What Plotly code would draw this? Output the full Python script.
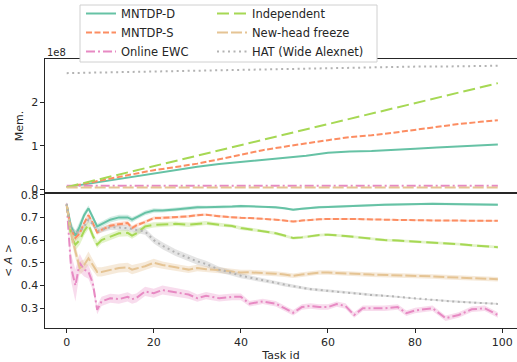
import plotly.graph_objects as go

# ---------------- data ----------------
mem_tasks = [0, 5, 10, 15, 20, 25, 30, 35, 40, 45, 50, 55, 60, 65, 70, 75, 80, 85, 90, 95, 99]
# memory, in units of 1e8 parameters
mem_mntdp_d = [0.05, 0.13, 0.21, 0.29, 0.37, 0.45, 0.52, 0.58, 0.63, 0.68, 0.72, 0.77, 0.84, 0.87, 0.88, 0.90, 0.93, 0.96, 0.98, 1.01, 1.03]
mem_mntdp_s = [0.05, 0.15, 0.25, 0.35, 0.44, 0.51, 0.59, 0.69, 0.80, 0.90, 0.98, 1.06, 1.13, 1.20, 1.24, 1.30, 1.37, 1.44, 1.50, 1.55, 1.59]
mem_ewc = [0.08, 0.08, 0.08, 0.08, 0.08, 0.08, 0.08, 0.08, 0.08, 0.08, 0.08, 0.08, 0.08, 0.08, 0.08, 0.08, 0.08, 0.08, 0.08, 0.08, 0.08]
mem_indep = [0.05, 0.17, 0.29, 0.41, 0.53, 0.65, 0.77, 0.89, 1.01, 1.13, 1.25, 1.37, 1.49, 1.61, 1.73, 1.85, 1.97, 2.09, 2.21, 2.33, 2.44]
mem_newhead = [0.04, 0.04, 0.04, 0.04, 0.04, 0.04, 0.04, 0.04, 0.04, 0.04, 0.04, 0.04, 0.04, 0.04, 0.04, 0.04, 0.04, 0.04, 0.04, 0.04, 0.04]
mem_hat = [2.67, 2.68, 2.69, 2.70, 2.71, 2.72, 2.73, 2.74, 2.75, 2.76, 2.77, 2.78, 2.79, 2.80, 2.80, 2.81, 2.82, 2.82, 2.83, 2.84, 2.84]

acc_tasks = [0, 1, 2, 3, 4, 5, 6, 7, 8, 10, 12, 14, 15, 16, 18, 20, 22, 25, 28, 30, 32, 35, 38, 40,
             42, 45, 48, 50, 52, 54, 56, 58, 60, 62, 64, 66, 68, 70, 73, 76, 78, 80, 82, 84, 87, 90, 93, 96, 99]
acc_mntdp_d = [0.756, 0.66, 0.62, 0.66, 0.71, 0.74, 0.70, 0.66, 0.67, 0.69, 0.70, 0.70, 0.69, 0.70, 0.72, 0.73, 0.73, 0.735, 0.74, 0.745, 0.745, 0.745, 0.748, 0.75,
               0.749, 0.748, 0.745, 0.740, 0.734, 0.738, 0.742, 0.745, 0.746, 0.748, 0.750, 0.752, 0.753, 0.755, 0.756, 0.757, 0.758, 0.760, 0.760, 0.760, 0.759, 0.758, 0.757, 0.756, 0.756]
acc_mntdp_s = [0.756, 0.645, 0.61, 0.63, 0.675, 0.71, 0.675, 0.634, 0.645, 0.663, 0.67, 0.675, 0.653, 0.665, 0.68, 0.697, 0.698, 0.70, 0.705, 0.71, 0.712, 0.705, 0.70, 0.698,
               0.697, 0.695, 0.690, 0.686, 0.682, 0.686, 0.690, 0.692, 0.693, 0.694, 0.692, 0.693, 0.692, 0.690, 0.690, 0.689, 0.688, 0.687, 0.688, 0.687, 0.686, 0.686, 0.685, 0.685, 0.685]
acc_ewc = [0.76, 0.48, 0.40, 0.50, 0.47, 0.46, 0.41, 0.293, 0.33, 0.344, 0.34, 0.35, 0.34, 0.345, 0.374, 0.366, 0.38, 0.37, 0.36, 0.344, 0.355, 0.344, 0.35, 0.35,
           0.32, 0.33, 0.32, 0.30, 0.28, 0.305, 0.31, 0.305, 0.305, 0.318, 0.31, 0.27, 0.30, 0.30, 0.30, 0.305, 0.278, 0.29, 0.295, 0.30, 0.256, 0.27, 0.295, 0.30, 0.27]
acc_indep = [0.756, 0.616, 0.58, 0.60, 0.64, 0.667, 0.62, 0.58, 0.60, 0.616, 0.63, 0.632, 0.62, 0.63, 0.66, 0.667, 0.668, 0.672, 0.668, 0.672, 0.675, 0.668, 0.662, 0.653,
             0.648, 0.640, 0.630, 0.620, 0.609, 0.612, 0.618, 0.622, 0.624, 0.622, 0.618, 0.614, 0.610, 0.606, 0.600, 0.598, 0.596, 0.594, 0.592, 0.590, 0.587, 0.582, 0.577, 0.573, 0.569]
acc_newhead = [0.756, 0.63, 0.55, 0.477, 0.49, 0.52, 0.49, 0.46, 0.46, 0.47, 0.477, 0.48, 0.47, 0.475, 0.485, 0.50, 0.49, 0.48, 0.47, 0.477, 0.472, 0.468, 0.462, 0.457,
               0.458, 0.456, 0.452, 0.448, 0.443, 0.448, 0.454, 0.457, 0.457, 0.456, 0.455, 0.452, 0.450, 0.448, 0.447, 0.446, 0.445, 0.443, 0.442, 0.440, 0.437, 0.434, 0.432, 0.430, 0.428]
acc_hat = [0.76, 0.645, 0.63, 0.64, 0.66, 0.69, 0.67, 0.64, 0.645, 0.657, 0.655, 0.653, 0.648, 0.645, 0.638, 0.60, 0.575, 0.545, 0.52, 0.506, 0.495, 0.47, 0.455, 0.443,
           0.435, 0.425, 0.412, 0.404, 0.396, 0.390, 0.384, 0.380, 0.378, 0.374, 0.370, 0.366, 0.362, 0.358, 0.355, 0.350, 0.345, 0.341, 0.338, 0.336, 0.332, 0.328, 0.325, 0.322, 0.319]

# half-width of the shaded confidence bands
band_mntdp_d = [0.01, 0.02, 0.02, 0.02, 0.015, 0.012, 0.012, 0.012, 0.012, 0.012, 0.012, 0.012, 0.012, 0.01, 0.01, 0.01, 0.008, 0.008, 0.007, 0.007, 0.006, 0.006, 0.006, 0.006,
                0.005, 0.005, 0.005, 0.005, 0.005, 0.005, 0.005, 0.005, 0.005, 0.005, 0.005, 0.005, 0.005, 0.005, 0.005, 0.005, 0.005, 0.005, 0.005, 0.005, 0.005, 0.005, 0.005, 0.005, 0.005]
band_mntdp_s = [0.01, 0.015, 0.015, 0.015, 0.012, 0.01, 0.01, 0.01, 0.01, 0.01, 0.01, 0.01, 0.01, 0.008, 0.008, 0.007, 0.007, 0.006, 0.006, 0.006, 0.005, 0.005, 0.005, 0.005,
                0.004, 0.004, 0.004, 0.004, 0.004, 0.004, 0.004, 0.004, 0.004, 0.004, 0.004, 0.004, 0.004, 0.004, 0.004, 0.004, 0.004, 0.004, 0.004, 0.004, 0.004, 0.004, 0.004, 0.004, 0.004]
band_ewc = [0.01, 0.06, 0.07, 0.04, 0.03, 0.03, 0.03, 0.02, 0.02, 0.02, 0.02, 0.02, 0.02, 0.02, 0.02, 0.02, 0.02, 0.018, 0.018, 0.016, 0.016, 0.015, 0.015, 0.015,
            0.012, 0.012, 0.012, 0.012, 0.012, 0.012, 0.012, 0.012, 0.012, 0.012, 0.012, 0.012, 0.012, 0.012, 0.012, 0.012, 0.012, 0.012, 0.012, 0.012, 0.012, 0.012, 0.012, 0.012, 0.012]
band_indep = [0.01, 0.025, 0.025, 0.02, 0.02, 0.018, 0.018, 0.015, 0.015, 0.015, 0.015, 0.015, 0.014, 0.013, 0.012, 0.012, 0.011, 0.01, 0.01, 0.009, 0.009, 0.008, 0.008, 0.008,
              0.007, 0.007, 0.007, 0.006, 0.006, 0.006, 0.006, 0.006, 0.006, 0.006, 0.006, 0.006, 0.006, 0.006, 0.006, 0.006, 0.006, 0.006, 0.006, 0.006, 0.006, 0.006, 0.006, 0.006, 0.006]
band_newhead = [0.01, 0.03, 0.03, 0.03, 0.025, 0.03, 0.025, 0.02, 0.02, 0.02, 0.02, 0.02, 0.02, 0.02, 0.018, 0.018, 0.016, 0.015, 0.015, 0.014, 0.013, 0.012, 0.012, 0.012,
                0.011, 0.011, 0.011, 0.01, 0.01, 0.01, 0.01, 0.01, 0.01, 0.01, 0.01, 0.01, 0.01, 0.01, 0.01, 0.01, 0.01, 0.01, 0.01, 0.01, 0.01, 0.01, 0.01, 0.01, 0.01]
band_hat = [0.01, 0.015, 0.015, 0.015, 0.012, 0.012, 0.012, 0.012, 0.012, 0.012, 0.012, 0.012, 0.012, 0.013, 0.014, 0.015, 0.015, 0.015, 0.015, 0.015, 0.014, 0.013, 0.012, 0.011,
            0.01, 0.009, 0.008, 0.008, 0.007, 0.007, 0.006, 0.006, 0.006, 0.005, 0.005, 0.005, 0.005, 0.005, 0.004, 0.004, 0.004, 0.004, 0.004, 0.004, 0.004, 0.004, 0.004, 0.004, 0.004]

names = ["MNTDP-D", "MNTDP-S", "Online EWC", "Independent", "New-head freeze", "HAT (Wide Alexnet)"]
mem_series = [mem_mntdp_d, mem_mntdp_s, mem_ewc, mem_indep, mem_newhead, mem_hat]
acc_series = [acc_mntdp_d, acc_mntdp_s, acc_ewc, acc_indep, acc_newhead, acc_hat]
band_series = [band_mntdp_d, band_mntdp_s, band_ewc, band_indep, band_newhead, band_hat]

# ---------------- styles ----------------
colors = ["#66c2a5", "#fc8d62", "#e78ac3", "#a6d854", "#e5c494", "#b3b3b3"]
fills = ["rgba(102,194,165,0.3)", "rgba(252,141,98,0.3)", "rgba(231,138,195,0.3)",
         "rgba(166,216,84,0.3)", "rgba(229,196,148,0.35)", "rgba(179,179,179,0.35)"]
dashes = ["solid", "6px,2.5px", "9px,3px,2px,3px", "12px,5px", "11px,3px", "2px,3.5px"]
legend_ids = ["legend", "legend", "legend", "legend2", "legend2", "legend2"]

fig = go.Figure()

for i, name in enumerate(names):
    fig.add_trace(go.Scatter(
        x=mem_tasks, y=mem_series[i], mode="lines", name=name,
        line=dict(color=colors[i], width=2, dash=dashes[i]),
        xaxis="x2", yaxis="y2", showlegend=False))

for i, name in enumerate(names):
    upper = [a + b for a, b in zip(acc_series[i], band_series[i])]
    lower = [a - b for a, b in zip(acc_series[i], band_series[i])]
    fig.add_trace(go.Scatter(x=acc_tasks, y=upper, mode="lines", line=dict(width=0),
                             showlegend=False, hoverinfo="skip", xaxis="x", yaxis="y"))
    fig.add_trace(go.Scatter(x=acc_tasks, y=lower, mode="lines", line=dict(width=0),
                             fill="tonexty", fillcolor=fills[i],
                             showlegend=False, hoverinfo="skip", xaxis="x", yaxis="y"))

for i, name in enumerate(names):
    fig.add_trace(go.Scatter(
        x=acc_tasks, y=acc_series[i], mode="lines", name=name,
        line=dict(color=colors[i], width=2, dash=dashes[i]),
        xaxis="x", yaxis="y", legend=legend_ids[i]))

split = (328 - 193) / 269.0
axis_common = dict(showgrid=False, zeroline=False, showline=True, linecolor="#262626", linewidth=1.1,
                   ticks="outside", ticklen=3.5, tickwidth=0.9, tickcolor="#262626", automargin=False,
                   tickfont=dict(family="DejaVu Sans", size=11, color="#262626"))

leg_top = 1 + (59 + 1) / 269.0
fig.update_layout(
    width=517, height=362,
    margin=dict(l=45, r=0, t=59, b=34, autoexpand=False),
    paper_bgcolor="white", plot_bgcolor="white",
    font=dict(family="DejaVu Sans", size=11, color="#262626"),
    xaxis=dict(range=[-4.98, 103.4], domain=[0, 1], anchor="y", mirror=True,
               tickvals=[0, 20, 40, 60, 80, 100],
               title=dict(text="Task id", font=dict(size=11), standoff=4), **axis_common),
    yaxis=dict(range=[0.2128, 0.8075], domain=[0, split], anchor="x",
               tickvals=[0.3, 0.4, 0.5, 0.6, 0.7, 0.8], ticktext=["0.3", "0.4", "0.5", "0.6", "0.7", "0.8"],
               title=dict(text="< <i>A</i> >", font=dict(size=11), standoff=5), **axis_common),
    xaxis2=dict(range=[-4.98, 103.4], domain=[0, 1], anchor="y2", mirror=True,
                showticklabels=False, matches="x", tickvals=[0, 20, 40, 60, 80, 100],
                **{k: v for k, v in axis_common.items() if k not in ("ticks",)}, ticks=""),
    yaxis2=dict(range=[-0.085, 2.995], domain=[split, 1], anchor="x2",
                tickvals=[0, 1, 2], ticktext=["0", "1", "2"],
                title=dict(text="Mem.", font=dict(size=11), standoff=5), **axis_common),
    legend=dict(x=(81 - 45) / 472.0, y=leg_top, xanchor="left", yanchor="top", traceorder="normal",
                bgcolor="rgba(0,0,0,0)", borderwidth=0, font=dict(size=11.5, color="#262626"),
                tracegroupgap=0, itemwidth=30),
    legend2=dict(x=(212 - 45) / 472.0, y=leg_top, xanchor="left", yanchor="top", traceorder="normal",
                 bgcolor="rgba(0,0,0,0)", borderwidth=0, font=dict(size=11.5, color="#262626"),
                 tracegroupgap=0, itemwidth=30),
    shapes=[dict(type="rect", xref="paper", yref="paper",
                 x0=(80 - 45) / 472.0, x1=(377 - 45) / 472.0,
                 y0=1 + (59 - 62) / 269.0, y1=1 + (59 - 5) / 269.0,
                 fillcolor="white", line=dict(color="#d0d0d0", width=1), layer="above")],
    annotations=[dict(text="1e8", xref="paper", yref="paper", x=0, y=1 + (59 - 53) / 269.0,
                      xanchor="left", yanchor="middle", showarrow=False,
                      font=dict(size=10, color="#262626"))],
)

fig.write_html("out.html", config={"displayModeBar": False},
               post_script="document.body.style.margin='0px';")
